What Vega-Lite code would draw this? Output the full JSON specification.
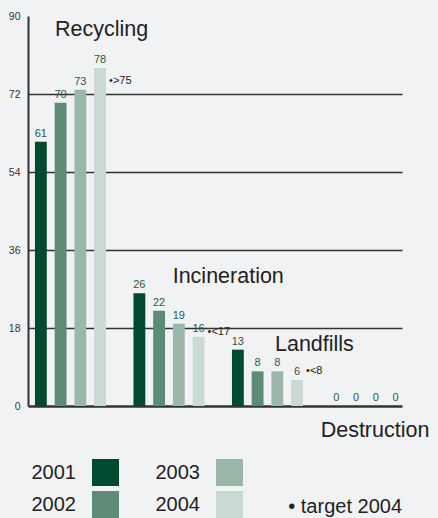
{
  "$schema": "https://vega.github.io/schema/vega-lite/v6.json",
  "autosize": "none",
  "width": 374,
  "height": 390,
  "padding": {"left": 28, "top": 16, "right": 36, "bottom": 112},
  "background": "#f1f2f4",
  "config": {
    "view": {"stroke": null},
    "font": "Liberation Sans",
    "text": {"font": "Liberation Sans"}
  },
  "data": {
    "values": [
      {"category": "Recycling", "year": "2001", "value": 61},
      {"category": "Recycling", "year": "2002", "value": 70},
      {"category": "Recycling", "year": "2003", "value": 73},
      {"category": "Recycling", "year": "2004", "value": 78, "target": 75, "target_label": "•>75"},
      {"category": "Incineration", "year": "2001", "value": 26},
      {"category": "Incineration", "year": "2002", "value": 22},
      {"category": "Incineration", "year": "2003", "value": 19},
      {"category": "Incineration", "year": "2004", "value": 16, "target": 17, "target_label": "•<17"},
      {"category": "Landfills", "year": "2001", "value": 13},
      {"category": "Landfills", "year": "2002", "value": 8},
      {"category": "Landfills", "year": "2003", "value": 8},
      {"category": "Landfills", "year": "2004", "value": 6, "target": 8, "target_label": "•<8"},
      {"category": "Destruction", "year": "2001", "value": 0},
      {"category": "Destruction", "year": "2002", "value": 0},
      {"category": "Destruction", "year": "2003", "value": 0},
      {"category": "Destruction", "year": "2004", "value": 0}
    ]
  },
  "encoding": {
    "x": {
      "field": "category",
      "type": "nominal",
      "sort": ["Recycling", "Incineration", "Landfills", "Destruction"],
      "scale": {"paddingInner": 0.279, "paddingOuter": 0.038, "align": 0.93},
      "axis": {"labels": false, "ticks": false, "title": null, "domain": true, "domainColor": "#333333", "domainWidth": 2.5, "grid": false}
    },
    "y": {
      "type": "quantitative",
      "scale": {"domain": [0, 90], "nice": false},
      "axis": {
        "values": [0, 18, 36, 54, 72, 90],
        "title": null,
        "ticks": false,
        "grid": true,
        "gridColor": {"condition": {"test": "datum.value === 90 || datum.value === 0", "value": "transparent"}, "value": "#333333"},
        "gridWidth": 1.3,
        "domainColor": "#333333",
        "domainWidth": 2,
        "labelPadding": 8,
        "labelFontSize": 10.5,
        "labelColor": "#333333",
        "labelFont": "Liberation Sans"
      }
    }
  },
  "layer": [
    {
      "mark": {"type": "bar"},
      "encoding": {
        "xOffset": {"field": "year", "type": "nominal", "sort": ["2001", "2002", "2003", "2004"], "scale": {"paddingInner": 0.4, "paddingOuter": 0}},
        "y": {"field": "value", "type": "quantitative"},
        "color": {
          "field": "year",
          "type": "nominal",
          "scale": {"domain": ["2001", "2002", "2003", "2004"], "range": ["#004a2f", "#5d8b76", "#9bb7aa", "#cad9d1"]},
          "legend": {
            "orient": "none",
            "legendX": 64,
            "legendY": 443,
            "title": null,
            "columns": 2,
            "symbolType": "square",
            "symbolSize": 729,
            "symbolStrokeWidth": 0,
            "symbolOpacity": 1,
            "labelFontSize": 20,
            "labelColor": "#222222",
            "labelFont": "Liberation Sans",
            "labelAlign": "right",
            "labelOffset": -43,
            "rowPadding": 5,
            "columnPadding": 36,
            "padding": 0
          }
        }
      }
    },
    {
      "mark": {"type": "text", "baseline": "bottom", "dy": -3, "fontSize": 11, "color": "#2b5748"},
      "encoding": {
        "xOffset": {"field": "year", "type": "nominal", "sort": ["2001", "2002", "2003", "2004"]},
        "y": {"field": "value", "type": "quantitative"},
        "text": {"field": "value", "type": "quantitative"}
      }
    },
    {
      "transform": [{"filter": "isValid(datum.target)"}],
      "mark": {"type": "text", "align": "left", "baseline": "middle", "dx": 9, "fontSize": 11, "color": "#222222"},
      "encoding": {
        "xOffset": {"field": "year", "type": "nominal", "sort": ["2001", "2002", "2003", "2004"]},
        "y": {"field": "target", "type": "quantitative"},
        "text": {"field": "target_label"}
      }
    },
    {
      "transform": [{"filter": "datum.category === 'Recycling' && datum.year === '2001'"}],
      "mark": {"type": "text", "align": "left", "baseline": "alphabetic", "dx": -15.5, "fontSize": 21.5, "color": "#222222"},
      "encoding": {"y": {"datum": 85.4}, "text": {"field": "category"}}
    },
    {
      "transform": [{"filter": "datum.category === 'Incineration' && datum.year === '2001'"}],
      "mark": {"type": "text", "align": "left", "baseline": "alphabetic", "dx": 3.7, "fontSize": 21.5, "color": "#222222"},
      "encoding": {"y": {"datum": 28.4}, "text": {"field": "category"}}
    },
    {
      "transform": [{"filter": "datum.category === 'Landfills' && datum.year === '2001'"}],
      "mark": {"type": "text", "align": "left", "baseline": "alphabetic", "dx": 7.5, "fontSize": 21.5, "color": "#222222"},
      "encoding": {"y": {"datum": 12.8}, "text": {"field": "category"}}
    },
    {
      "transform": [{"filter": "datum.category === 'Destruction' && datum.year === '2001'"}],
      "mark": {"type": "text", "align": "left", "baseline": "alphabetic", "dx": -45.3, "fontSize": 21.5, "color": "#222222"},
      "encoding": {"y": {"datum": -7.2}, "text": {"field": "category"}}
    },
    {
      "transform": [{"filter": "datum.category === 'Recycling' && datum.year === '2001'"}],
      "mark": {"type": "text", "align": "right", "baseline": "alphabetic", "fontSize": 20, "color": "#222222"},
      "encoding": {"x": {"value": "width"}, "y": {"datum": -24.6}, "text": {"value": "• target 2004"}}
    }
  ]
}
